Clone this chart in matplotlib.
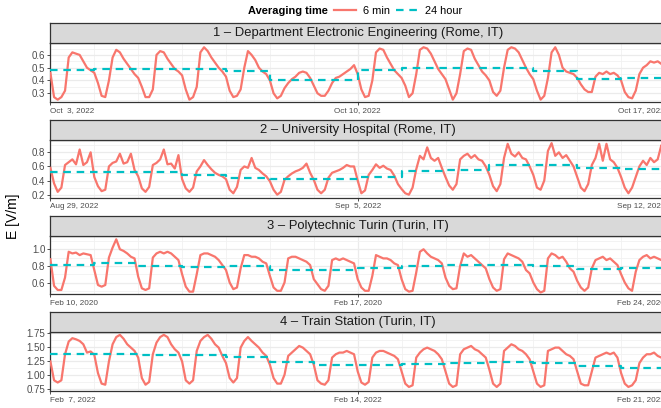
import numpy as np
import pandas as pd
import matplotlib
matplotlib.use("Agg")
import matplotlib.pyplot as plt
import matplotlib.dates as mdates
from matplotlib.ticker import FixedLocator

plt.rcParams['font.family'] = ['Liberation Sans', 'DejaVu Sans']

# 6-min field values sampled every 2 h (00, 02, ..., 22 h), one row per day
rome_dee = [
    [0.46, 0.27, 0.25, 0.27, 0.32, 0.58, 0.62, 0.61, 0.60, 0.55, 0.50, 0.48],
    [0.46, 0.38, 0.28, 0.27, 0.40, 0.58, 0.64, 0.62, 0.57, 0.53, 0.49, 0.45],
    [0.42, 0.35, 0.27, 0.27, 0.33, 0.60, 0.63, 0.62, 0.57, 0.53, 0.49, 0.47],
    [0.44, 0.33, 0.25, 0.27, 0.35, 0.62, 0.66, 0.63, 0.58, 0.54, 0.50, 0.47],
    [0.43, 0.32, 0.27, 0.28, 0.33, 0.50, 0.63, 0.60, 0.56, 0.50, 0.47, 0.45],
    [0.40, 0.30, 0.26, 0.28, 0.34, 0.38, 0.41, 0.43, 0.46, 0.47, 0.46, 0.42],
    [0.36, 0.30, 0.28, 0.28, 0.32, 0.38, 0.42, 0.43, 0.45, 0.47, 0.49, 0.52],
    [0.45, 0.33, 0.27, 0.28, 0.40, 0.62, 0.65, 0.64, 0.58, 0.53, 0.48, 0.45],
    [0.42, 0.36, 0.27, 0.30, 0.45, 0.64, 0.66, 0.65, 0.61, 0.55, 0.49, 0.45],
    [0.41, 0.33, 0.25, 0.30, 0.45, 0.63, 0.65, 0.64, 0.57, 0.52, 0.47, 0.44],
    [0.40, 0.31, 0.28, 0.32, 0.50, 0.64, 0.66, 0.65, 0.62, 0.56, 0.50, 0.45],
    [0.41, 0.32, 0.25, 0.28, 0.42, 0.62, 0.66, 0.60, 0.50, 0.47, 0.46, 0.45],
    [0.42, 0.37, 0.33, 0.31, 0.31, 0.43, 0.46, 0.45, 0.47, 0.45, 0.46, 0.44],
    [0.40, 0.31, 0.27, 0.26, 0.32, 0.45, 0.50, 0.52, 0.55, 0.54, 0.55, 0.53],
    [0.50],
]
rome_dee_24h = [0.482, 0.488, 0.488, 0.488, 0.477, 0.405, 0.404,
                0.485, 0.50, 0.50, 0.50, 0.477, 0.41, 0.42]

rome_hosp = [
    [0.58, 0.36, 0.24, 0.30, 0.62, 0.66, 0.70, 0.63, 0.84, 0.62, 0.66, 0.80],
    [0.45, 0.32, 0.25, 0.27, 0.60, 0.65, 0.67, 0.78, 0.64, 0.66, 0.78, 0.55],
    [0.46, 0.29, 0.24, 0.31, 0.62, 0.65, 0.70, 0.84, 0.63, 0.64, 0.57, 0.76],
    [0.42, 0.29, 0.24, 0.30, 0.53, 0.60, 0.69, 0.62, 0.56, 0.51, 0.48, 0.46],
    [0.42, 0.27, 0.22, 0.31, 0.55, 0.60, 0.58, 0.72, 0.58, 0.55, 0.50, 0.46],
    [0.39, 0.27, 0.20, 0.24, 0.41, 0.46, 0.50, 0.53, 0.55, 0.58, 0.64, 0.51],
    [0.41, 0.27, 0.22, 0.27, 0.44, 0.51, 0.53, 0.55, 0.58, 0.62, 0.60, 0.60],
    [0.40, 0.22, 0.26, 0.48, 0.55, 0.63, 0.58, 0.61, 0.57, 0.55, 0.47, 0.35],
    [0.28, 0.22, 0.20, 0.30, 0.56, 0.75, 0.70, 0.87, 0.72, 0.68, 0.72, 0.58],
    [0.45, 0.33, 0.27, 0.35, 0.70, 0.75, 0.78, 0.72, 0.76, 0.70, 0.68, 0.60],
    [0.48, 0.32, 0.25, 0.35, 0.72, 0.92, 0.78, 0.74, 0.80, 0.72, 0.70, 0.60],
    [0.48, 0.30, 0.27, 0.40, 0.82, 0.93, 0.75, 0.80, 0.72, 0.76, 0.68, 0.60],
    [0.45, 0.30, 0.25, 0.35, 0.62, 0.72, 0.92, 0.68, 0.92, 0.70, 0.66, 0.58],
    [0.45, 0.30, 0.22, 0.30, 0.45, 0.60, 0.68, 0.62, 0.72, 0.66, 0.70, 0.90],
    [0.75],
]
rome_hosp_24h = [0.52, 0.52, 0.52, 0.475, 0.44, 0.42, 0.42,
                 0.45, 0.54, 0.545, 0.615, 0.615, 0.58, 0.57]

turin_poli = [
    [0.88, 0.56, 0.51, 0.51, 0.66, 0.97, 0.95, 0.96, 0.93, 0.95, 0.94, 0.93],
    [0.75, 0.57, 0.55, 0.57, 0.90, 1.02, 1.12, 1.00, 0.98, 0.95, 0.91, 0.89],
    [0.67, 0.53, 0.51, 0.53, 0.90, 0.95, 0.97, 0.95, 0.97, 0.95, 0.91, 0.87],
    [0.70, 0.55, 0.49, 0.49, 0.70, 0.93, 0.95, 0.95, 0.93, 0.91, 0.87, 0.81],
    [0.75, 0.60, 0.52, 0.54, 0.77, 0.93, 0.93, 0.91, 0.91, 0.89, 0.85, 0.83],
    [0.68, 0.54, 0.50, 0.50, 0.60, 0.89, 0.91, 0.91, 0.89, 0.87, 0.85, 0.81],
    [0.64, 0.58, 0.52, 0.50, 0.56, 0.87, 0.89, 0.87, 0.89, 0.87, 0.85, 0.83],
    [0.64, 0.54, 0.50, 0.50, 0.68, 0.93, 0.91, 0.89, 0.89, 0.87, 0.83, 0.81],
    [0.64, 0.52, 0.49, 0.50, 0.72, 0.97, 1.00, 0.95, 0.91, 0.89, 0.87, 0.83],
    [0.66, 0.56, 0.52, 0.53, 0.80, 0.95, 0.91, 0.93, 0.89, 0.85, 0.81, 0.77],
    [0.64, 0.54, 0.50, 0.52, 0.88, 0.95, 0.93, 0.91, 0.89, 0.85, 0.75, 0.71],
    [0.60, 0.52, 0.48, 0.50, 0.89, 0.95, 0.93, 0.89, 0.91, 0.85, 0.77, 0.73],
    [0.62, 0.54, 0.50, 0.54, 0.77, 0.87, 0.89, 0.91, 0.87, 0.89, 0.85, 0.81],
    [0.70, 0.60, 0.53, 0.50, 0.73, 0.87, 0.91, 0.93, 0.89, 0.91, 0.89, 0.87],
    [0.85],
]
turin_poli_24h = [0.814, 0.834, 0.798, 0.786, 0.794, 0.745, 0.745,
                  0.778, 0.798, 0.806, 0.806, 0.794, 0.766, 0.774]

turin_station = [
    [1.24, 0.90, 0.86, 0.90, 1.37, 1.60, 1.66, 1.64, 1.61, 1.55, 1.40, 1.42],
    [1.36, 1.03, 0.84, 0.82, 1.24, 1.55, 1.68, 1.72, 1.65, 1.55, 1.49, 1.43],
    [1.31, 0.94, 0.82, 0.87, 1.37, 1.58, 1.68, 1.72, 1.68, 1.55, 1.46, 1.40],
    [1.24, 0.90, 0.84, 0.90, 1.43, 1.61, 1.68, 1.72, 1.65, 1.55, 1.49, 1.34],
    [1.21, 0.94, 0.86, 0.94, 1.49, 1.61, 1.68, 1.61, 1.55, 1.49, 1.40, 1.34],
    [1.18, 0.94, 0.84, 0.84, 1.00, 1.34, 1.40, 1.46, 1.52, 1.49, 1.43, 1.37],
    [1.18, 0.90, 0.84, 0.82, 0.90, 1.31, 1.37, 1.40, 1.40, 1.43, 1.40, 1.37],
    [1.06, 0.86, 0.82, 0.87, 1.31, 1.40, 1.43, 1.43, 1.40, 1.37, 1.34, 1.28],
    [1.06, 0.84, 0.78, 0.81, 1.31, 1.40, 1.46, 1.49, 1.46, 1.43, 1.37, 1.28],
    [1.06, 0.84, 0.78, 0.81, 1.37, 1.46, 1.49, 1.52, 1.46, 1.43, 1.37, 1.31],
    [1.09, 0.84, 0.78, 0.84, 1.43, 1.49, 1.55, 1.52, 1.46, 1.43, 1.37, 1.28],
    [1.06, 0.84, 0.78, 0.81, 1.43, 1.46, 1.49, 1.49, 1.43, 1.37, 1.34, 1.28],
    [1.06, 0.84, 0.81, 0.81, 1.06, 1.31, 1.34, 1.37, 1.40, 1.37, 1.40, 1.31],
    [1.03, 0.84, 0.78, 0.81, 0.90, 1.21, 1.31, 1.37, 1.37, 1.40, 1.34, 1.31],
    [1.25],
]
turin_station_24h = [1.38, 1.367, 1.355, 1.35, 1.325, 1.23, 1.18,
                     1.18, 1.19, 1.21, 1.23, 1.21, 1.16, 1.12]

titles = ["1 \u2013 Department Electronic Engineering (Rome, IT)",
          "2 \u2013 University Hospital (Rome, IT)",
          "3 \u2013 Polytechnic Turin (Turin, IT)",
          "4 \u2013 Train Station (Turin, IT)"]
starts = ["2022-10-03", "2022-08-29", "2020-02-10", "2022-02-07"]
series_6min = [rome_dee, rome_hosp, turin_poli, turin_station]
series_24h = [rome_dee_24h, rome_hosp_24h, turin_poli_24h, turin_station_24h]
ylims = [(0.234, 0.691), (0.153, 0.98), (0.458, 1.161), (0.714, 1.768)]
yticks = [[0.3, 0.4, 0.5, 0.6], [0.2, 0.4, 0.6, 0.8],
          [0.6, 0.8, 1.0], [0.75, 1.00, 1.25, 1.50, 1.75]]
yfmt = ["{:.1f}", "{:.1f}", "{:.1f}", "{:.2f}"]

RED = "#F8766D"
CYAN = "#00BFC4"
W, H = 661, 408
fig = plt.figure(figsize=(W / 100, H / 100), dpi=100)

day_px = 43.9
left_px = 50.4
span_days = 14.0
for k in range(4):
    top = 43.3 + k * 96.3
    h = 58.4
    ax = fig.add_axes([left_px / W, 1 - (top + h) / H, span_days * day_px / W, h / H])
    strip = fig.add_axes([left_px / W, 1 - top / H, span_days * day_px / W, 20 / H])

    start = pd.Timestamp(starts[k])
    vals = np.concatenate([np.array(d, dtype=float) for d in series_6min[k]])
    t = pd.date_range(start, periods=len(vals), freq="2h")
    daily = list(series_24h[k]) + [series_24h[k][-1]]
    td = pd.date_range(start, periods=len(daily), freq="1D")

    ax.plot(t, vals, color=RED, lw=1.6, solid_joinstyle="round", zorder=3)
    ax.plot(td, daily, color=CYAN, lw=1.6, ls=(0, (3.4, 2.6)),
            drawstyle="steps-post", zorder=4)

    ax.set_xlim(start, start + pd.Timedelta(days=span_days))
    ax.set_ylim(*ylims[k])

    major = [start + pd.Timedelta(days=7 * i) for i in range(3)]
    ax.xaxis.set_major_locator(FixedLocator(mdates.date2num(major)))
    ax.xaxis.set_minor_locator(mdates.DayLocator())
    ax.set_xticklabels([f"{d:%b} {d.day:>2}, {d.year}" for d in major])
    for lab, ha in zip(ax.get_xticklabels(), ["left", "center", "right"]):
        lab.set_ha(ha)

    yt = yticks[k]
    ax.set_yticks(yt)
    ax.set_yticklabels([yfmt[k].format(v) for v in yt])
    step = yt[1] - yt[0]
    ax.yaxis.set_minor_locator(FixedLocator(np.arange(yt[0] - step / 2, yt[-1] + step, step)))

    ax.set_axisbelow(True)
    ax.grid(which="major", color="#EBEBEB", lw=0.9)
    ax.grid(which="minor", color="#F1F1F1", lw=0.6)
    ax.tick_params(which="major", length=2.2, width=0.6, color="#333333", pad=1.5)
    ax.tick_params(which="minor", length=0)
    ax.tick_params(axis="x", labelsize=5.9, labelcolor="#4D4D4D")
    ax.tick_params(axis="y", labelsize=7, labelcolor="#4D4D4D")
    for s in ax.spines.values():
        s.set_color("#333333")
        s.set_linewidth(0.9)

    strip.set_facecolor("#D9D9D9")
    strip.set_xticks([])
    strip.set_yticks([])
    for s in strip.spines.values():
        s.set_color("#333333")
        s.set_linewidth(0.9)
    strip.text(0.5, 0.5, titles[k], ha="center", va="center", fontsize=9.4,
               color="#1A1A1A", transform=strip.transAxes)

fig.text(13.5 / W, 1 - 216.5 / H, "E [V/m]", rotation=90, fontsize=10,
         ha="center", va="center", color="black")

# legend across the top
fig.text(288 / W, 1 - 10.7 / H, "Averaging time", fontsize=7.9, fontweight="bold",
         ha="center", va="center")
handles = [plt.Line2D([], [], color=RED, lw=1.6),
           plt.Line2D([], [], color=CYAN, lw=1.6, ls=(0, (3.4, 2.6)))]
fig.legend(handles, ["6 min", "24 hour"], loc="center left",
           bbox_to_anchor=(334 / W, 1 - 10.7 / H), ncol=2, frameon=False,
           fontsize=7.9, handlelength=2.0, handletextpad=0.6,
           columnspacing=0.6, borderpad=0, borderaxespad=0)

fig.savefig("out.png", dpi=100)
